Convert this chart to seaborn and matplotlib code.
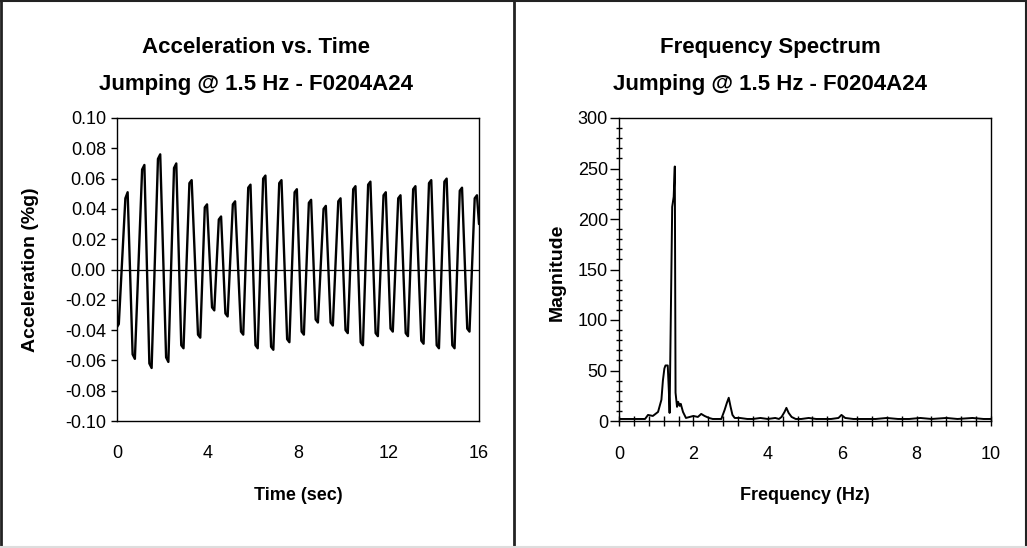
import numpy as np
import pandas as pd
import matplotlib
matplotlib.use('Agg')
import matplotlib.pyplot as plt
from matplotlib.lines import Line2D
from matplotlib.ticker import MultipleLocator, FormatStrFormatter
import seaborn as sns

# time history (start / end of each peak and trough)
time_s = [0.00, 0.08, 0.37, 0.47, 0.69, 0.79, 1.11, 1.21, 1.43, 1.53, 1.81, 1.91,
          2.17, 2.27, 2.52, 2.62, 2.84, 2.94, 3.20, 3.30, 3.58, 3.68, 3.88, 3.98,
          4.20, 4.30, 4.50, 4.60, 4.79, 4.89, 5.12, 5.22, 5.48, 5.58, 5.80, 5.90,
          6.12, 6.22, 6.46, 6.56, 6.81, 6.91, 7.17, 7.27, 7.52, 7.62, 7.85, 7.95,
          8.16, 8.26, 8.48, 8.58, 8.78, 8.88, 9.13, 9.23, 9.44, 9.54, 9.78, 9.88,
          10.10, 10.20, 10.44, 10.54, 10.77, 10.87, 11.10, 11.20, 11.43, 11.53, 11.78, 11.88,
          12.09, 12.19, 12.43, 12.53, 12.76, 12.86, 13.09, 13.19, 13.45, 13.55, 13.79, 13.89,
          14.13, 14.23, 14.47, 14.57, 14.82, 14.92, 15.15, 15.25, 15.48, 15.58, 15.81, 15.91,
          16.00]
accel_g = [-0.038, -0.036, 0.047, 0.051, -0.056, -0.059, 0.066, 0.069, -0.062, -0.065, 0.073, 0.076,
           -0.058, -0.061, 0.067, 0.070, -0.050, -0.052, 0.057, 0.059, -0.043, -0.045, 0.041, 0.043,
           -0.025, -0.027, 0.033, 0.035, -0.029, -0.031, 0.043, 0.045, -0.041, -0.043, 0.054, 0.056,
           -0.050, -0.052, 0.060, 0.062, -0.051, -0.053, 0.057, 0.059, -0.046, -0.048, 0.051, 0.053,
           -0.041, -0.043, 0.044, 0.046, -0.033, -0.035, 0.040, 0.042, -0.035, -0.037, 0.045, 0.047,
           -0.040, -0.042, 0.053, 0.055, -0.048, -0.050, 0.056, 0.058, -0.042, -0.044, 0.049, 0.051,
           -0.039, -0.041, 0.047, 0.049, -0.042, -0.044, 0.053, 0.055, -0.047, -0.049, 0.057, 0.059,
           -0.050, -0.052, 0.058, 0.060, -0.050, -0.052, 0.052, 0.054, -0.039, -0.041, 0.047, 0.049,
           0.030]

# frequency spectrum
freq_hz = [0.00, 0.40, 0.70, 0.78, 0.91, 1.05, 1.14, 1.18, 1.22, 1.25, 1.31, 1.34, 1.36, 1.43,
           1.47, 1.50, 1.52, 1.56, 1.59, 1.63, 1.66, 1.72, 1.80, 1.90, 2.00, 2.12, 2.21, 2.30,
           2.42, 2.52, 2.65, 2.75, 2.84, 2.90, 2.95, 3.00, 3.05, 3.11, 3.25, 3.45, 3.60, 3.80,
           4.00, 4.20, 4.30, 4.37, 4.45, 4.50, 4.56, 4.64, 4.75, 4.90, 5.10, 5.30, 5.50, 5.70,
           5.90, 5.98, 6.08, 6.30, 6.60, 6.90, 7.20, 7.50, 7.80, 8.10, 8.40, 8.80, 9.10, 9.50,
           9.80, 10.00]
magnitude = [2, 2, 2, 6, 5, 9, 21, 40, 52, 55, 55, 30, 8, 212,
             222, 252, 28, 14, 19, 15, 17, 9, 3, 4, 5, 4, 7, 5,
             3, 2, 2, 2, 11, 18, 23, 14, 6, 3, 3, 2, 2, 3,
             2, 3, 2, 4, 9, 13, 8, 4, 2, 2, 3, 2, 2, 2,
             3, 6, 3, 2, 2, 2, 3, 2, 2, 3, 2, 3, 2, 3,
             2, 2]

title_1 = ['Acceleration vs. Time', 'Jumping @ 1.5 Hz - F0204A24']
title_2 = ['Frequency Spectrum', 'Jumping @ 1.5 Hz - F0204A24']

sns.set_theme(style='ticks')
plt.rcParams['font.family'] = ['Liberation Sans', 'DejaVu Sans']
plt.rcParams['text.color'] = 'black'
plt.rcParams['axes.edgecolor'] = 'black'
plt.rcParams['axes.linewidth'] = 1.0
plt.rcParams['xtick.color'] = 'black'
plt.rcParams['ytick.color'] = 'black'

W, H = 1027, 548
fig = plt.figure(figsize=(W / 100, H / 100), dpi=100)
fig.patch.set_facecolor('white')

def fx(px):
    return px / W

def fy(py):
    return 1 - py / H

ax1 = fig.add_axes([fx(117), fy(421), fx(479 - 117), (421 - 118) / H])
ax2 = fig.add_axes([fx(619), fy(421), fx(991 - 619), (421 - 118) / H])

# left: time history
df_t = pd.DataFrame({'t': time_s, 'a': accel_g})
sns.lineplot(data=df_t, x='t', y='a', ax=ax1, color='black', lw=1.7, estimator=None)
ax1.axhline(0, color='black', lw=0.9)
ax1.set_xlim(0, 16)
ax1.set_ylim(-0.10, 0.10)
ax1.set_xticks([0, 4, 8, 12, 16])
ax1.set_yticks(np.arange(-0.10, 0.101, 0.02))
ax1.yaxis.set_major_formatter(FormatStrFormatter('%.2f'))
ax1.tick_params(axis='y', left=True, direction='out', length=4.5, width=1, pad=3.5, labelsize=13, labelcolor='black')
ax1.tick_params(axis='x', length=0, pad=17, labelsize=13, labelcolor='black')
ax1.set_xlabel('')
ax1.set_ylabel('')

# right: spectrum
df_f = pd.DataFrame({'f': freq_hz, 'm': magnitude})
sns.lineplot(data=df_f, x='f', y='m', ax=ax2, color='black', lw=1.4, estimator=None)
ax2.set_xlim(0, 10)
ax2.set_ylim(0, 300)
ax2.xaxis.set_major_locator(MultipleLocator(2))
ax2.xaxis.set_minor_locator(MultipleLocator(0.4))
ax2.yaxis.set_major_locator(MultipleLocator(50))
ax2.yaxis.set_minor_locator(MultipleLocator(10))
ax2.tick_params(axis='y', which='major', left=True, direction='out', length=6.5, width=1, pad=1.5,
                labelsize=13, labelcolor='black')
ax2.tick_params(axis='y', which='minor', left=True, direction='inout', length=5, width=1)
ax2.tick_params(axis='x', which='both', bottom=True, direction='inout', length=6.5, width=1, pad=15,
                labelsize=13, labelcolor='black')
ax2.set_xlabel('')
ax2.set_ylabel('')

for ax in (ax1, ax2):
    for s in ax.spines.values():
        s.set_visible(True)
        s.set_color('black')
        s.set_linewidth(1.0)

# titles and axis labels
fig.text(fx(256), fy(53), title_1[0], ha='center', va='baseline', fontsize=16, fontweight='bold')
fig.text(fx(256), fy(90), title_1[1], ha='center', va='baseline', fontsize=16, fontweight='bold')
fig.text(fx(770), fy(53), title_2[0], ha='center', va='baseline', fontsize=16, fontweight='bold')
fig.text(fx(770), fy(90), title_2[1], ha='center', va='baseline', fontsize=16, fontweight='bold')
fig.text(fx(298), fy(500), 'Time (sec)', ha='center', va='baseline', fontsize=13, fontweight='bold')
fig.text(fx(805), fy(500), 'Frequency (Hz)', ha='center', va='baseline', fontsize=13, fontweight='bold')
fig.text(fx(31), fy(270), 'Acceleration (%g)', ha='center', va='center', rotation=90, fontsize=14, fontweight='bold')
fig.text(fx(557), fy(272), 'Magnitude', ha='center', va='center', rotation=90, fontsize=14, fontweight='bold')

# panel borders
fig.add_artist(Line2D([fx(1), fx(1)], [fy(1), fy(546)], color='#222222', lw=2))
fig.add_artist(Line2D([fx(0), fx(1027)], [fy(1), fy(1)], color='#222222', lw=1.5))
fig.add_artist(Line2D([fx(513.5), fx(513.5)], [fy(1), fy(548)], color='#222222', lw=2))
fig.add_artist(Line2D([fx(1025.5), fx(1025.5)], [fy(1), fy(546)], color='#222222', lw=1.5))
fig.add_artist(Line2D([fx(0), fx(1027)], [fy(546.5), fy(546.5)], color='#dddddd', lw=1.5))

fig.savefig('out.png', dpi=100, facecolor='white')
